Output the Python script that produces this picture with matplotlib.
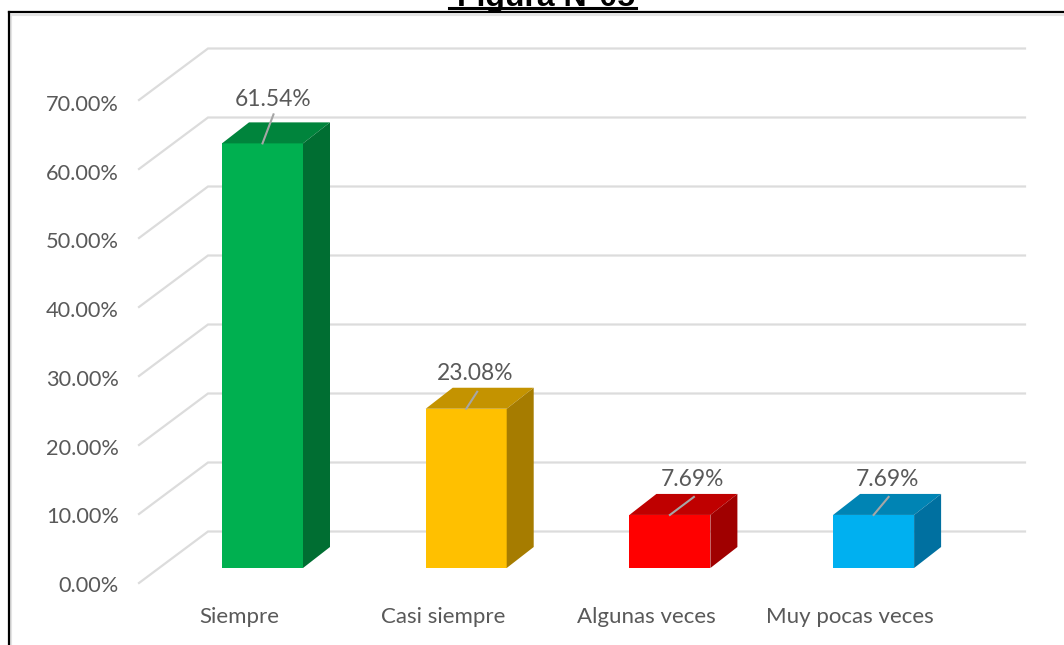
import matplotlib
matplotlib.use("Agg")
import matplotlib.pyplot as plt
from matplotlib.lines import Line2D
from matplotlib.patches import Polygon

categories = ["Siempre", "Casi siempre", "Algunas veces", "Muy pocas veces"]
values = [61.54, 23.08, 7.69, 7.69]
value_labels = ["61.54%", "23.08%", "7.69%", "7.69%"]
y_ticks = [0, 10, 20, 30, 40, 50, 60, 70]
y_tick_labels = ["0.00%", "10.00%", "20.00%", "30.00%", "40.00%", "50.00%", "60.00%", "70.00%"]

front_colors = ["#00b050", "#ffc000", "#ff0000", "#00b0f0"]
top_colors = ["#00843c", "#c49300", "#bf0000", "#0084b4"]
side_colors = ["#006e32", "#a67c00", "#a00000", "#0070a0"]

W, H = 1064, 645
PX_X = 203.7   # pixels per category
PX_Y = 6.9     # pixels per percent
TXT = "#595959"
GRID = "#dcdcdc"


def dx(px):
    return px / PX_X


def dy(px):
    return px / PX_Y


fig = plt.figure(figsize=(W / 100, H / 100), dpi=100)
ax = fig.add_axes([0, 0, 1, 1])
ax.set_xlim(-262.5 / PX_X, (W - 262.5) / PX_X)
ax.set_ylim((568 - H) / PX_Y, 568 / PX_Y)
ax.axis("off")

# floor and wall lines
x_front = dx(139 - 262.5)
x_wall = dx(208 - 262.5)
x_end = dx(1025 - 262.5)
for t, lab in zip(y_ticks, y_tick_labels):
    y_f = t + dy(-15)
    y_w = t + dy(36.5)
    ax.plot([x_front, x_wall, x_end], [y_f, y_w, y_w], color=GRID, lw=1.6, zorder=1,
            solid_joinstyle="miter")
    # labels sit a bit tighter than the lines in the original
    ax.text(dx(119 - 262.5), y_f - dy(3 + 2 * t / 70), lab, ha="right", va="center", color=TXT,
            fontsize=15.7, family="Lato", zorder=5)

# the boxes
half = dx(40.5)
ox = dx(27)
oy = dy(21)
leader_dx = [11, 11, 24, 15]
leader_dy = [29, 17, 18, 18]
label_dx = [11, 9, 23, 14]
label_dy = [44, 35, 35, 35]
for i, v in enumerate(values):
    l, r = i - half, i + half
    ax.add_patch(Polygon([(l, 0), (r, 0), (r, v), (l, v)], fc=front_colors[i], ec="none", zorder=3))
    ax.add_patch(Polygon([(l, v), (r, v), (r + ox, v + oy), (l + ox, v + oy)], fc=top_colors[i], ec="none", zorder=3))
    ax.add_patch(Polygon([(r, 0), (r + ox, oy), (r + ox, v + oy), (r, v)], fc=side_colors[i], ec="none", zorder=3))
    ax.plot([i, i + dx(leader_dx[i])], [v, v + dy(leader_dy[i])], color="#a6a6a6", lw=1.5, zorder=4)
    ax.text(i + dx(label_dx[i]), v + dy(label_dy[i]), value_labels[i], ha="center", va="center",
            color=TXT, fontsize=16.4, family="Lato", zorder=5)
    ax.text(i - dx(23.5), dy(-49), categories[i], ha="center", va="center", color=TXT,
            fontsize=16, family="Lato", zorder=5)

# page frame of the document
fig.add_artist(Line2D([11 / W, 1], [1 - 14.5 / H, 1 - 14.5 / H], color="#e4e4e4", lw=1.5))
fig.add_artist(Line2D([11 / W, 11 / W], [0, 1 - 14.5 / H], color="#e4e4e4", lw=1.5))
fig.add_artist(Line2D([9 / W, 1], [1 - 12 / H, 1 - 12 / H], color="black", lw=1.6))
fig.add_artist(Line2D([9 / W, 9 / W], [0, 1 - 12 / H], color="black", lw=1.6))

# title is cut by the top of the page
fig.text(546 / W, 1 - 6 / H, "Figura N°05", ha="center", va="baseline", fontsize=23,
         fontweight="bold", family="Liberation Sans", color="black")
fig.add_artist(Line2D([449 / W, 636 / W], [1 - 8 / H, 1 - 8 / H], color="black", lw=2.2))

fig.savefig("out.png", dpi=100)
